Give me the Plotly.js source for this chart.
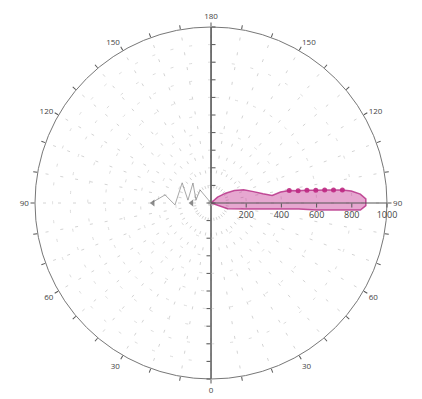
<!DOCTYPE html>
<html><head><meta charset="utf-8">
<script src="https://cdn.plot.ly/plotly-3.0.1.min.js"></script>
<style>html,body{margin:0;padding:0;background:#fff}#chart{width:422px;height:399px}</style>
</head><body><div id="chart"></div>
<script>
// Angular ticks (degrees), labels every 30
const angTicks = [0,10,20,30,40,50,60,70,80,90,100,110,120,130,140,150,160,170,180];
const angLabels = ['0','','','30','','','60','','','90','','','120','','','150','','','180'];
const radTicks = [200,400,600,800,1000];
const radLabels = ['200','400','600','800','1000'];

// Left (gray) series
const grayR     = [0, 97, 87, 153, 132, 200, 205, 265, 330];
const grayTheta = [90, 140, 101, 138, 97, 125, 87, 100, 91];
const grayMarkR     = [110, 330];
const grayMarkTheta = [90, 90];

// Right (pink) series: upper edge then lower edge
const pinkR     = [0, 50, 100, 150, 200, 250, 300, 350, 400, 450, 500, 550, 600, 650, 700, 750, 800, 850, 880,
                   880, 850, 800, 700, 600, 500, 400, 300, 200, 100, 0];
const pinkTheta = [90, 132, 124, 118, 112, 105, 100, 97, 99, 99, 98, 97.6, 97, 96.5, 96, 95.6, 94.9, 93.4, 91.5,
                   89, 87.3, 87.2, 86.7, 86.2, 86.1, 85.1, 83.5, 80.3, 71, 90];
const markR     = [450, 500, 550, 600, 650, 700, 750];
const markTheta = [99, 98, 97.6, 97, 96.5, 96, 95.6];

const W = 422, H = 399, cx = 211, cy = 203, R = 176;

// left half is drawn counterclockwise from the top, so mirror its angles
const mirror = t => 180 - t;

const angCommon = {
  ticks: 'outside', ticklen: 4,
  tickcolor: '#555', linecolor: '#777', linewidth: 1,
  tickfont: {size: 8, color: '#444'},
  showgrid: true, gridcolor: '#d4d4d4', griddash: '3px,12px', gridwidth: 1
};
const radCommon = {
  range: [0, 1000], linecolor: '#555', linewidth: 1, tickcolor: '#555',
  showgrid: true, gridcolor: '#dcdcdc', griddash: '3px,16px', gridwidth: 1
};

const data = [
  {type: 'scatterpolar', subplot: 'polar', r: grayR, theta: grayTheta.map(mirror), mode: 'lines',
   line: {color: 'rgba(110,110,110,0.6)', width: 1}, hoverinfo: 'skip'},
  {type: 'scatterpolar', subplot: 'polar', r: grayMarkR, theta: grayMarkTheta.map(mirror), mode: 'markers',
   marker: {color: 'rgba(90,90,90,0.7)', size: 6, symbol: 'triangle-left'}},
  {type: 'scatterpolar', subplot: 'polar2', r: pinkR, theta: pinkTheta, mode: 'lines', fill: 'toself',
   fillcolor: 'rgba(200,60,150,0.45)', line: {color: 'rgba(180,40,130,0.8)', width: 1.5}},
  {type: 'scatterpolar', subplot: 'polar2', r: markR, theta: markTheta, mode: 'markers',
   marker: {color: 'rgba(190,40,130,0.9)', size: 5}},
  {type: 'scatterpolar', subplot: 'polar3', r: [], theta: []}
];

const leftDomain = {x: [(cx - R) / W, cx / W], y: [1 - (cy + R) / H, 1 - (cy - R) / H]};

const layout = {
  width: W, height: H, margin: {l: 0, r: 0, t: 0, b: 0},
  paper_bgcolor: '#fff', showlegend: false,
  font: {family: 'Open Sans, DejaVu Sans, sans-serif', color: '#444'},
  polar: {
    domain: leftDomain,
    sector: [90, 270], bgcolor: 'rgba(0,0,0,0)',
    angularaxis: Object.assign({rotation: 90, direction: 'counterclockwise',
      tickvals: angTicks.map(mirror), ticktext: angLabels}, angCommon),
    radialaxis: Object.assign({angle: 270, dtick: 100, ticks: 'outside', ticklen: 4, showticklabels: false}, radCommon)
  },
  polar2: {
    domain: {x: [cx / W, (cx + R) / W], y: leftDomain.y},
    sector: [-89.9, 89.9], bgcolor: 'rgba(0,0,0,0)',
    angularaxis: Object.assign({rotation: 270, direction: 'counterclockwise',
      tickvals: angTicks, ticktext: angLabels}, angCommon),
    radialaxis: Object.assign({angle: 0, tickangle: 0, tickvals: radTicks, ticktext: radLabels, ticks: 'outside', ticklen: 4,
      tickfont: {size: 9, color: '#444'}}, radCommon)
  },
  polar3: {
    domain: leftDomain,
    sector: [90, 270], bgcolor: 'rgba(0,0,0,0)',
    angularaxis: {visible: false, showgrid: false},
    radialaxis: {range: [0, 1000], angle: 90, dtick: 100, ticks: 'outside', ticklen: 4, showticklabels: false,
      showgrid: false, linecolor: '#555', tickcolor: '#555'}
  }
};

Plotly.newPlot('chart', data, layout, {displayModeBar: false, staticPlot: true});
</script></body></html>
